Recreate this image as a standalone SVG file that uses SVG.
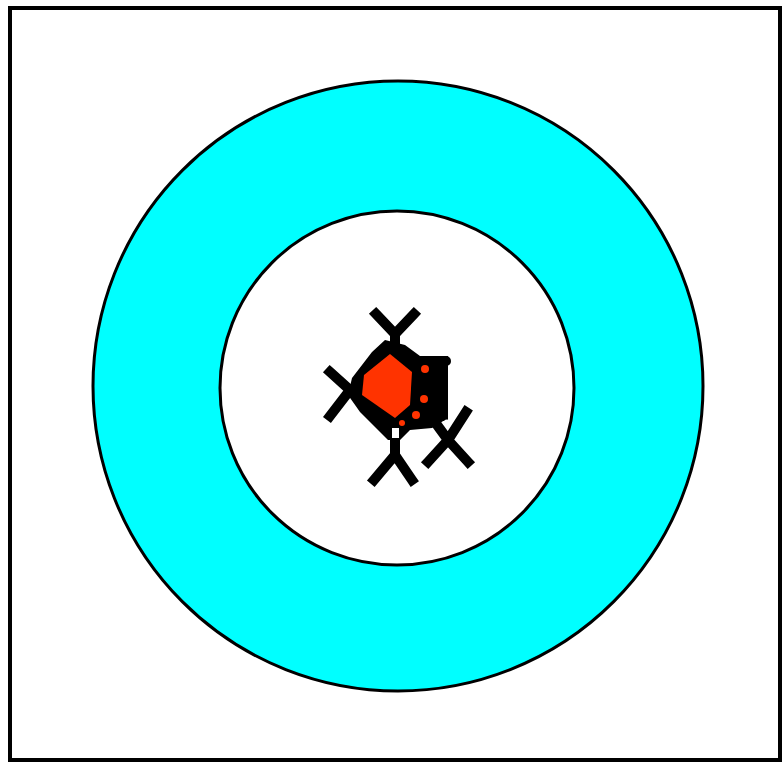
<svg xmlns="http://www.w3.org/2000/svg" width="782" height="765" viewBox="0 0 782 765">
<style>
.x{stroke:#000;stroke-width:10;fill:none;stroke-linecap:square;stroke-linejoin:round}
.ring{stroke:#000;stroke-width:3}
</style>
<rect x="0" y="0" width="782" height="765" fill="#fff"/>
<rect id="frame" x="10" y="8" width="770" height="752" fill="#fff" stroke="#000" stroke-width="4"/>
<g id="outer"><circle cx="398" cy="386" r="305" fill="#00ffff" class="ring"/></g>
<g id="inner"><circle cx="397" cy="388" r="177" fill="#fff" class="ring"/></g>
<g id="marks">
<path d="M385 340 L405 345 L420 356 L448 356 L448 418 L432 428 L410 430 L400 440 L388 440 L360 412 L348 395 L352 378 L372 352 Z" fill="#000"/>
<path class="x" d="M376 314 L395 334 L414 314 M395 334 L395 352"/>
<path class="x" d="M330 372 L350 390 L330 416 M350 390 L362 390"/>
<path class="x" d="M374 480 L395 455 L412 480 M395 455 L395 430"/>
<path class="x" d="M428 462 L448 440 L468 462 M448 440 L466 412 M448 440 L432 418"/>
<path class="x" d="M418 361 L446 361 L443 362 L443 416"/>
<rect x="392" y="428" width="7" height="10" fill="#fff"/>
<circle cx="447" cy="423" r="3.5" fill="#fff"/>
<path d="M390 354 L412 372 L410 405 L395 418 L362 395 L364 375 Z" fill="#ff3300"/>
<circle cx="425" cy="369" r="4" fill="#ff3300"/>
<circle cx="424" cy="399" r="4" fill="#ff3300"/>
<circle cx="416" cy="415" r="4" fill="#ff3300"/>
<circle cx="402" cy="423" r="3" fill="#ff3300"/>
</g>
</svg>
